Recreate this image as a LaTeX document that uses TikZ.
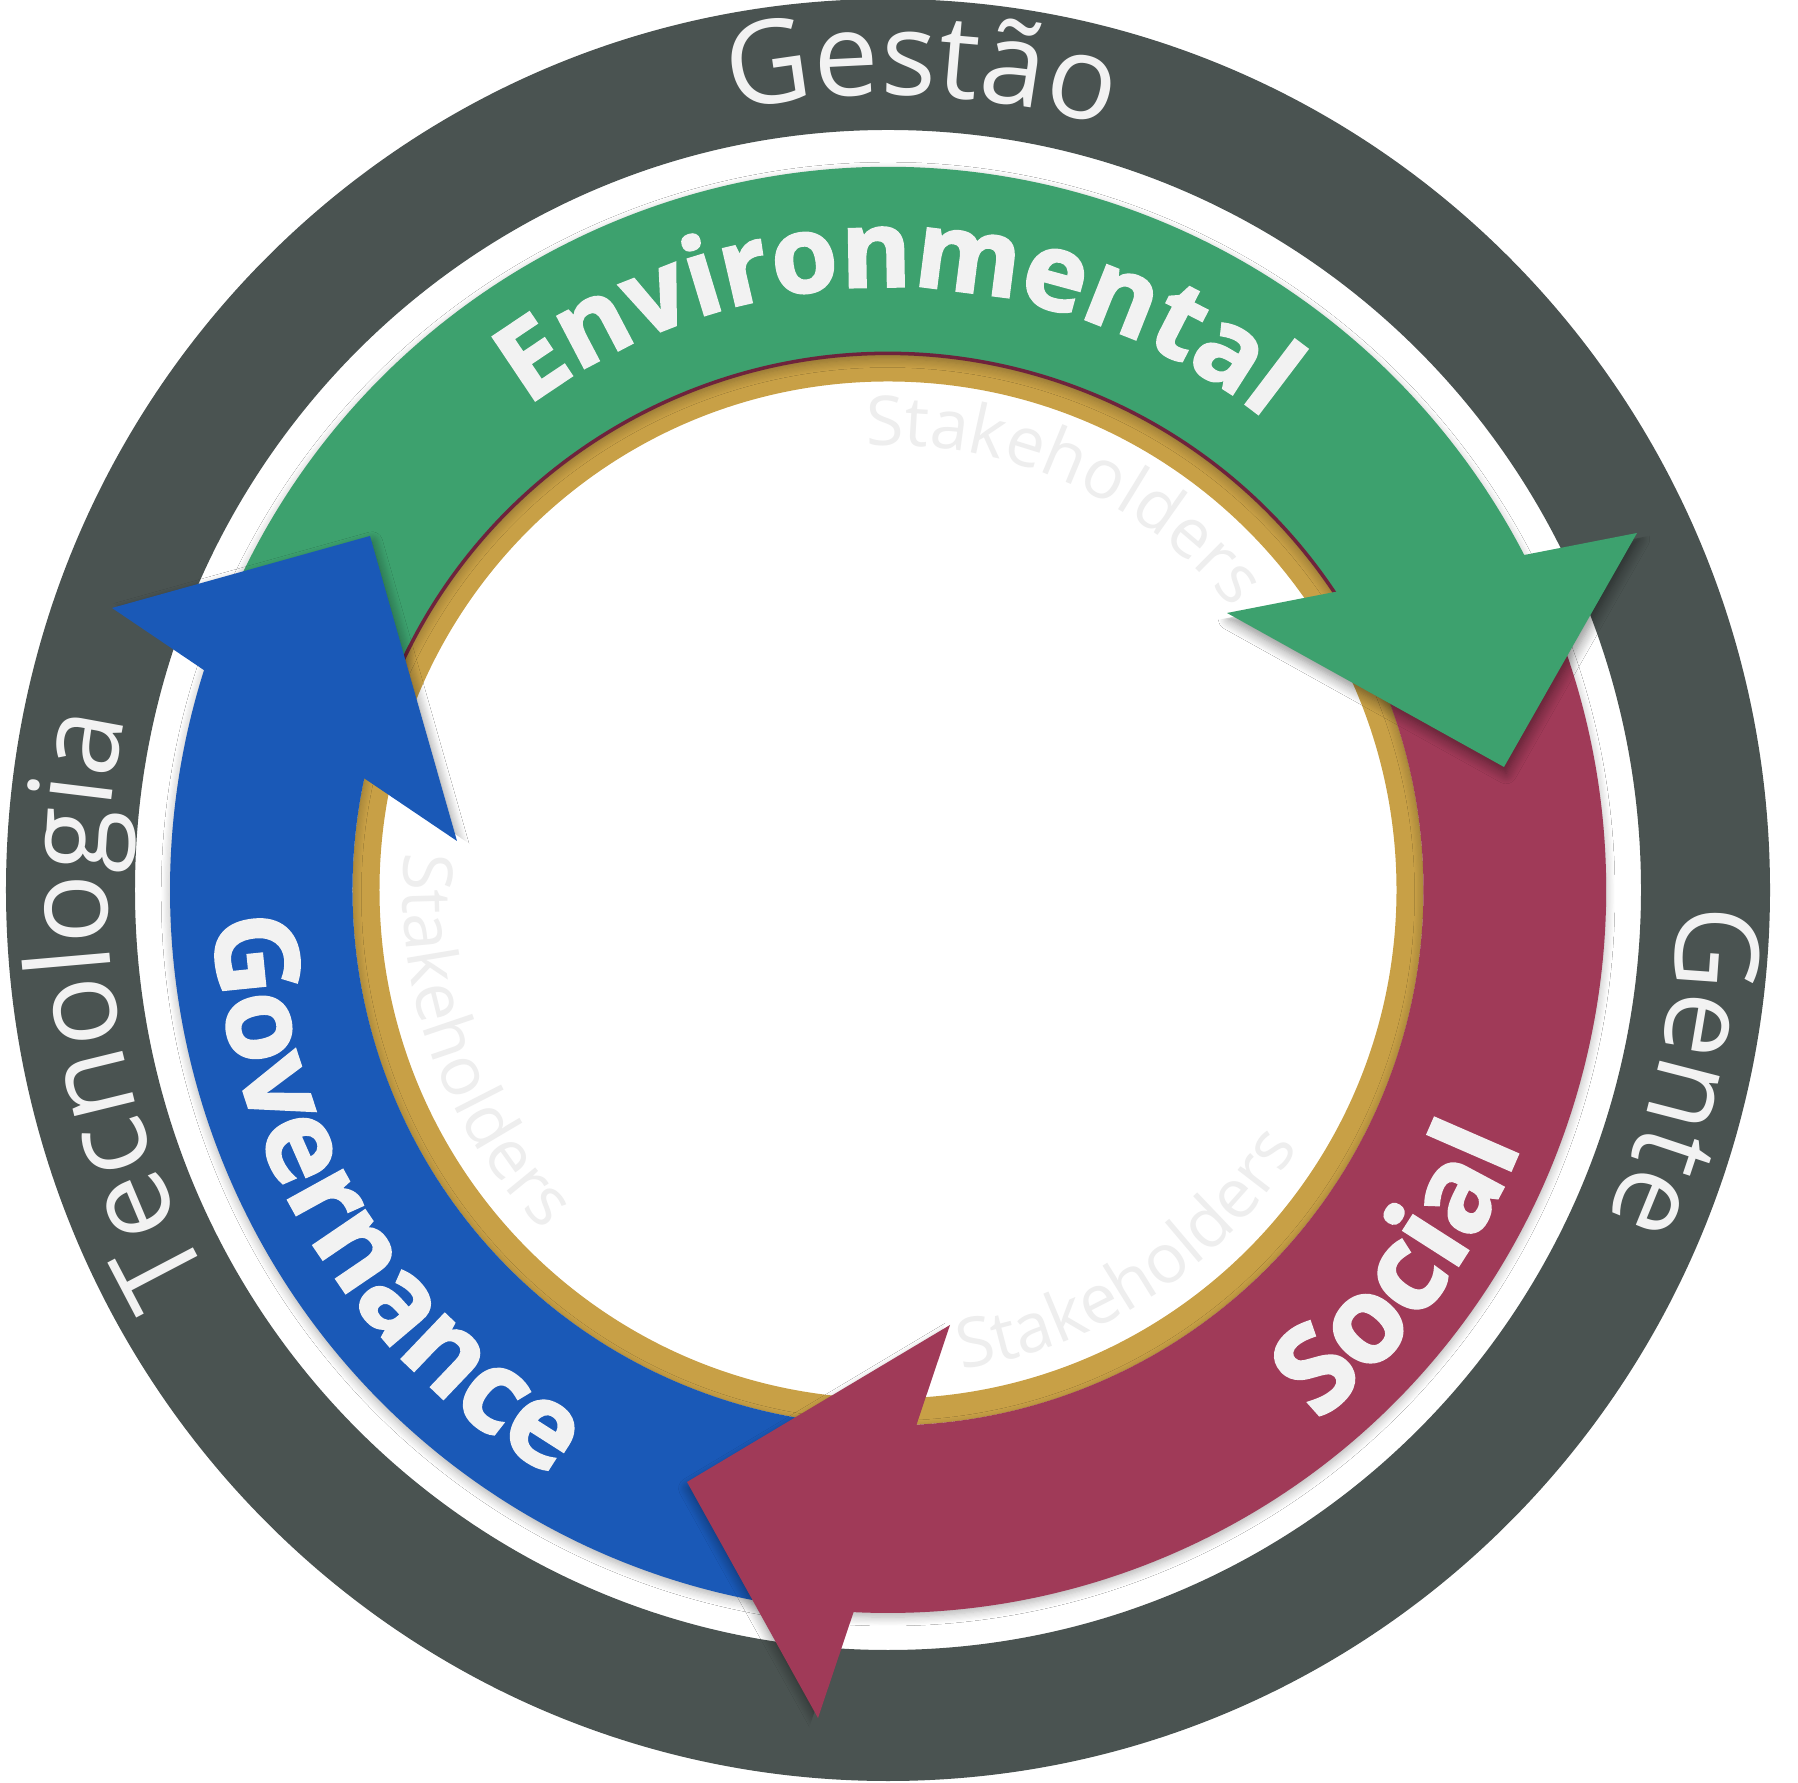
\documentclass[tikz,border=0pt]{standalone}
\usepackage{fontspec}
\setmainfont{Open Sans}
\newfontfamily\myHeavyFam{Open Sans}[BoldFeatures={FakeBold=2}]
\usetikzlibrary{decorations.text,shadows.blur}
\definecolor{ringdark}{HTML}{4A5351}
\definecolor{envgreen}{HTML}{3DA16E}
\definecolor{govblue}{HTML}{1A59B7}
\definecolor{socred}{HTML}{A03A58}
\definecolor{goldring}{HTML}{C8A046}
\definecolor{maroonline}{HTML}{6E233C}
\definecolor{txtwhite}{HTML}{F2F2F2}
\definecolor{stakegray}{HTML}{EEEEEE}
\newcommand\myEnvLab{\myHeavyFam\fontsize{30.5pt}{32pt}\selectfont\bfseries\color{txtwhite}}
\newcommand\myBoldLab{\myHeavyFam\fontsize{32.5pt}{34pt}\selectfont\bfseries\color{txtwhite}}
\newcommand\mySocLab{\myHeavyFam\fontsize{34pt}{36pt}\selectfont\bfseries\color{txtwhite}}
\newcommand\myOuterLab{\fontsize{33pt}{35pt}\selectfont\color{txtwhite}}
\newcommand\myStakeLab{\fontsize{19.5pt}{21pt}\selectfont\color{stakegray}}
\tikzset{
  headsh/.style={blur shadow={shadow xshift=0.6pt, shadow yshift=-1.8pt, shadow blur radius=3pt, shadow blur steps=10, shadow opacity=45}},
  bandsh/.style={blur shadow={shadow xshift=0pt, shadow yshift=-1.2pt, shadow blur radius=2.5pt, shadow blur steps=8, shadow opacity=30}},
  curvtext/.style={decorate, decoration={text along path, text align=center, text={#1}}}
}
\begin{document}
\begin{tikzpicture}[x=0.01cm, y=0.01cm]
\useasboundingbox (-888,-893) rectangle (910,890);
\fill[white] (-888,-893) rectangle (910,890);
% outer dark ring
\fill[ringdark, even odd rule] (0,0) ellipse[x radius=882, y radius=891] (0,0) ellipse[x radius=753, y radius=760];
% gold ring
\fill[goldring, even odd rule] (0,0) circle[radius=535.5] (0,0) circle[radius=508.5];
% bands
\fill[socred, bandsh] (23:718 and 723) arc[start angle=23, end angle=-93.8, x radius=718, y radius=723] -- (-87.6:535.5) arc[start angle=-87.6, end angle=23, radius=535.5] -- cycle;
\fill[govblue, bandsh] (262:718 and 723) arc[start angle=262, end angle=161.3, x radius=718, y radius=723] -- (167:535.5) arc[start angle=167, end angle=262, radius=535.5] -- cycle;
\fill[envgreen, bandsh] (160:718 and 723) arc[start angle=160, end angle=26.8, x radius=718, y radius=723] -- (32.8:535.5) arc[start angle=32.8, end angle=160, radius=535.5] -- cycle;
\draw[maroonline, line width=1pt] (163:536.5) arc[start angle=163, end angle=29, radius=536.5];
% arrow heads: shadow kept off each arrow's own band, then the head itself
\begin{scope}
  \clip (-641,81) -- (1731,543) -- (2016,-923) -- (-355,-1385) -- cycle;
  \path[headsh] (749,357) -- (616,123) -- (339,277) -- cycle;
\end{scope}
\fill[envgreen] (749,357) -- (616,123) -- (339,277) -- cycle;
\begin{scope}
  \clip (375,515) -- (-393,-1774) -- (-1810,-1298) -- (-1041,990) -- cycle;
  \path[headsh] (62,-435) -- (-201,-592) -- (-70,-828) -- cycle;
\end{scope}
\fill[socred] (62,-435) -- (-201,-592) -- (-70,-828) -- cycle;
\begin{scope}
  \clip (-1602,846) -- (400,-507) -- (1237,732) -- (-765,2085) -- cycle;
  \path[headsh] (-776,282) -- (-518,354) -- (-431,49) -- cycle;
\end{scope}
\fill[govblue] (-776,282) -- (-518,354) -- (-431,49) -- cycle;
% bold labels
\path[curvtext={|\myEnvLab|Environmental}] (174:603) arc[start angle=174, end angle=4, radius=603];
\path[curvtext={|\mySocLab|Social}] (-121.5:683) arc[start angle=-121.5, end angle=48.5, radius=683];
\path[curvtext={|\myBoldLab|Governance}] (126.3:675) arc[start angle=126.3, end angle=296.3, radius=675];
% outer labels
\path[curvtext={|\myOuterLab|Gestão}] (172.6:795) arc[start angle=172.6, end angle=2.6, radius=795];
\path[curvtext={|\myOuterLab|Gente}] (72.2:790) arc[start angle=72.2, end angle=-97.8, radius=790];
\path[curvtext={|\myOuterLab|Tecnologia}] (273.6:781) arc[start angle=273.6, end angle=103.6, radius=781];
% stakeholders
\path[curvtext={|\myStakeLab|Stakeholders}] (151:445) arc[start angle=151, end angle=-19, radius=445];
\path[curvtext={|\myStakeLab|Stakeholders}] (115.2:485) arc[start angle=115.2, end angle=285.2, radius=485];
\path[curvtext={|\myStakeLab|Stakeholders}] (-141.7:485) arc[start angle=-141.7, end angle=28.3, radius=485];
\end{tikzpicture}
\end{document}
